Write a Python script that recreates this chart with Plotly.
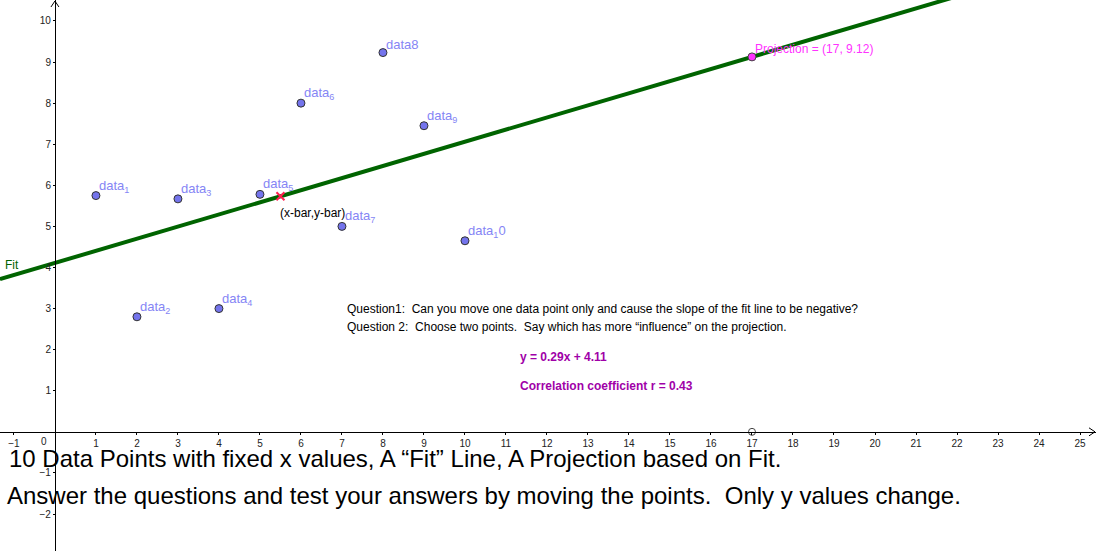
import numpy as np
import plotly.graph_objects as go

# data points (x fixed, y movable in the original applet)
data_x = [1, 2, 3, 4, 5, 6, 7, 8, 9, 10]
data_y = [5.75, 2.8, 5.67, 3.0, 5.78, 8.0, 5.0, 9.23, 7.45, 4.65]
data_labels = ["data<sub>1</sub>", "data<sub>2</sub>", "data<sub>3</sub>", "data<sub>4</sub>",
               "data<sub>5</sub>", "data<sub>6</sub>", "data<sub>7</sub>", "data8",
               "data<sub>9</sub>", "data<sub>1</sub>0"]

proj_x = 17
x_ticks = [-1, 1, 2, 3, 4, 5, 6, 7, 8, 9, 10, 11, 12, 13, 14, 15, 16, 17, 18, 19, 20, 21, 22, 23, 24, 25]
y_ticks = [-2, -1, 1, 2, 3, 4, 5, 6, 7, 8, 9, 10]

# visible window
X0, X1 = -1.34, 25.39
Y0, Y1 = -2.90, 10.51

# regression line through the points
slope, icpt = np.polyfit(data_x, data_y, 1)
x_bar = np.mean(data_x)
y_bar = np.mean(data_y)
proj_y = slope * proj_x + icpt

fig = go.Figure()

# fit line over the whole window
fig.add_trace(go.Scatter(x=[X0, X1], y=[slope * X0 + icpt, slope * X1 + icpt],
                         mode="lines", line=dict(color="#006400", width=4),
                         hoverinfo="skip"))

fig.add_trace(go.Scatter(x=data_x, y=data_y, mode="markers",
                         marker=dict(size=8, color="#7474ec",
                                     line=dict(color="#333333", width=1))))

fig.add_trace(go.Scatter(x=[x_bar], y=[y_bar], mode="markers",
                         marker=dict(symbol="x-thin", size=8,
                                     line=dict(color="#ff1f4f", width=2))))

fig.add_trace(go.Scatter(x=[proj_x], y=[proj_y], mode="markers",
                         marker=dict(size=8, color="#ff33ff",
                                     line=dict(color="#444444", width=1))))

fig.add_trace(go.Scatter(x=[proj_x], y=[0], mode="markers",
                         marker=dict(size=7, color="white",
                                     line=dict(color="#444444", width=1))))

lbl_font = dict(family="Liberation Sans, Arial, sans-serif", size=13, color="#8585f5")
annots = []
for x, y, t in zip(data_x, data_y, data_labels):
    annots.append(dict(x=x, y=y, text=t, showarrow=False, xanchor="left", yanchor="bottom",
                       xshift=1, yshift=-1, font=lbl_font))

annots.append(dict(x=x_bar, y=y_bar, text="(x-bar,y-bar)", showarrow=False,
                   xanchor="left", yanchor="middle", xshift=-2, yshift=-17,
                   font=dict(family="Liberation Sans, Arial", size=12, color="black")))
annots.append(dict(x=proj_x, y=proj_y, text="Projection = (17, 9.12)", showarrow=False,
                   xanchor="left", yanchor="bottom", xshift=1, yshift=-1,
                   font=dict(family="Liberation Sans, Arial", size=12, color="#ff33ff")))
annots.append(dict(x=X0, y=4.06, text="Fit", showarrow=False, xanchor="left",
                   yanchor="middle", xshift=3,
                   font=dict(family="Liberation Sans, Arial", size=12, color="#006400")))

q_font = dict(family="Liberation Sans, Arial", size=12, color="black")
annots.append(dict(x=7.07, y=2.99, text="Question1:  Can you move one data point only and cause the slope of the fit line to be negative?",
                   showarrow=False, xanchor="left", yanchor="middle", font=q_font))
annots.append(dict(x=7.07, y=2.55, text="Question 2:  Choose two points.  Say which has more \u201cinfluence\u201d on the projection.",
                   showarrow=False, xanchor="left", yanchor="middle", font=q_font))

p_font = dict(family="Liberation Sans, Arial", size=12, color="#a000a8")
annots.append(dict(x=11.29, y=1.82, text="<b>y = 0.29x + 4.11</b>", showarrow=False,
                   xanchor="left", yanchor="middle", font=p_font))
annots.append(dict(x=11.29, y=1.12, text="<b>Correlation coefficient r = 0.43</b>", showarrow=False,
                   xanchor="left", yanchor="middle", font=p_font))

big_font = dict(family="Liberation Sans, Arial", size=24, color="black")
annots.append(dict(x=7 / 1096, y=1 - 458 / 551, xref="paper", yref="paper",
                   text="10 Data Points with fixed x values, A \u201cFit\u201d Line, A Projection based on Fit.",
                   showarrow=False, xanchor="left", yanchor="middle", font=big_font))
annots.append(dict(x=5 / 1096, y=1 - 495 / 551, xref="paper", yref="paper",
                   text="Answer the questions and test your answers by moving the points.  Only y values change.",
                   showarrow=False, xanchor="left", yanchor="middle", font=big_font))

# origin label
annots.append(dict(x=0, y=0, text="0", showarrow=False, xanchor="right", yanchor="top",
                   xshift=-6, yshift=-2, font=dict(family="Liberation Sans, Arial", size=10, color="#222")))

# arrow heads at the axis ends
shapes = [
    dict(type="path", xref="x", yref="y", xsizemode="pixel", ysizemode="pixel",
         xanchor=X1, yanchor=0, path="M -7 4 L -1 0 L -7 -4",
         line=dict(color="black", width=1)),
    dict(type="path", xref="x", yref="y", xsizemode="pixel", ysizemode="pixel",
         xanchor=0, yanchor=Y1, path="M -4 -7 L 0 -1 L 4 -7",
         line=dict(color="black", width=1)),
]

tick_font = dict(family="Liberation Sans, Arial", size=10, color="#222")
fig.update_layout(
    width=1096, height=551,
    margin=dict(l=0, r=0, t=0, b=0, pad=0, autoexpand=False),
    paper_bgcolor="white", plot_bgcolor="white",
    showlegend=False,
    annotations=annots,
    shapes=shapes,
    xaxis=dict(range=[X0, X1], showgrid=False, zeroline=False, showline=True,
               linecolor="black", linewidth=1, anchor="free", automargin=False,
               position=(0 - Y0) / (Y1 - Y0), tickvals=x_ticks,
               ticks="outside", ticklen=2, tickcolor="black", tickfont=tick_font),
    yaxis=dict(range=[Y0, Y1], showgrid=False, zeroline=False, showline=True,
               linecolor="black", linewidth=1, anchor="free", automargin=False,
               position=(0 - X0) / (X1 - X0), tickvals=y_ticks,
               ticks="outside", ticklen=2, tickcolor="black", tickfont=tick_font),
)

# page body has a default margin; remove it so the figure fills the window
fig.write_html("out.html", config={"displayModeBar": False},
               post_script="document.body.style.margin='0';document.body.style.overflow='hidden';")
